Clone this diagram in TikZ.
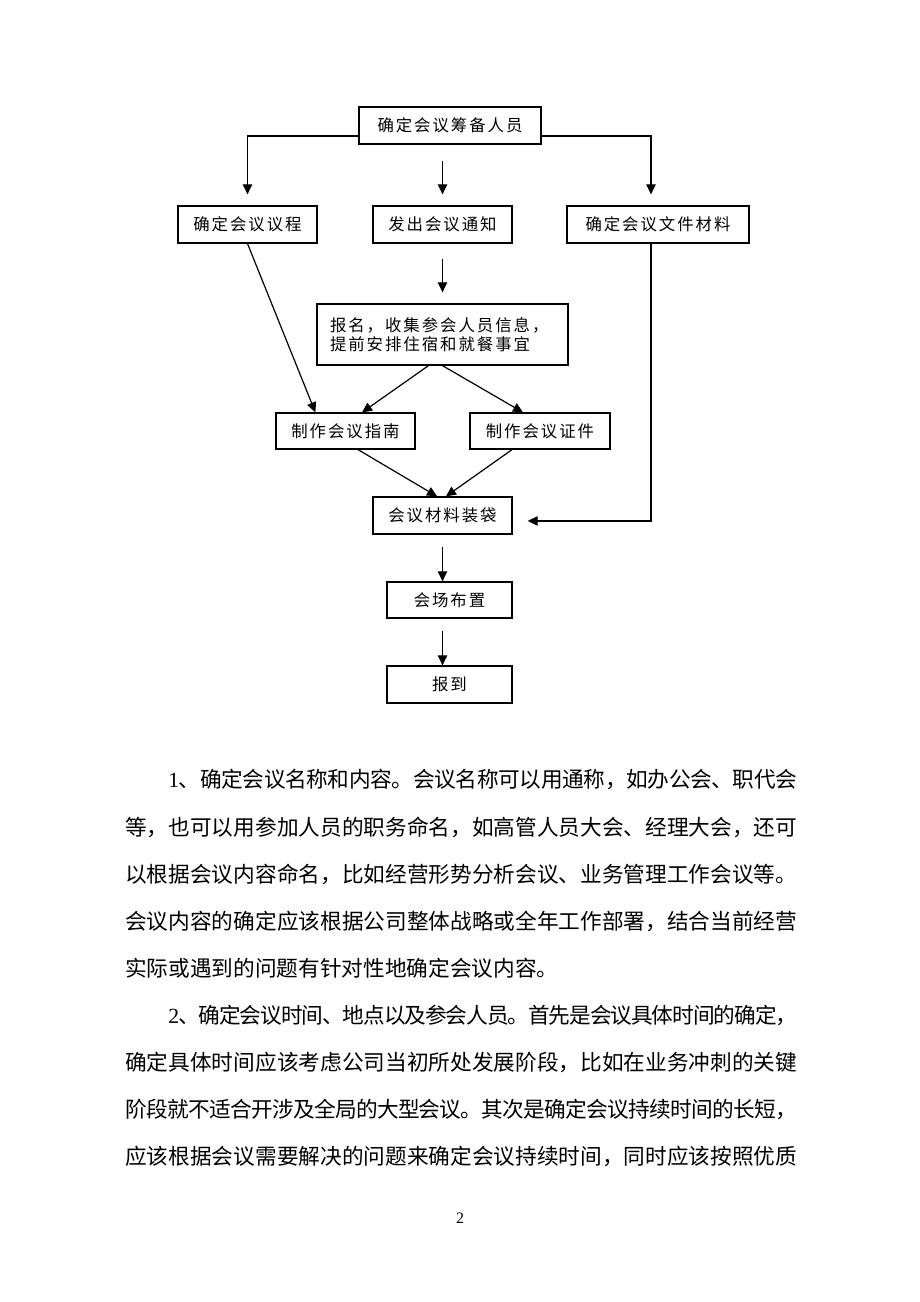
\documentclass[tikz,border=0pt]{standalone}
\usepackage{fontspec}
\newfontfamily\cjkbox[LetterSpace=12]{Noto Sans CJK SC}
\newfontfamily\cjkbody{Noto Sans CJK SC}
\newfontfamily\serifnum{Liberation Serif}
\usetikzlibrary{arrows.meta}
\newcommand\spendmark{SPENDMARK}
\def\spnext#1{\ifx\spendmark#1\else\hskip0pt plus 1fil minus 1.5pt\relax#1\expandafter\spnext\fi}
\def\spfirst#1{#1\spnext}
\newcommand\spreadline[2]{\hbox to #1{\spfirst#2\spendmark}}
\begin{document}
\begin{tikzpicture}[x=0.75pt,y=-0.75pt,
  box/.style={draw,line width=0.95pt,inner sep=0pt,minimum height=27.75pt,
    font=\cjkbox\fontsize{12.3pt}{14pt}\selectfont},
  arr/.style={line width=0.9pt,-{Triangle[length=7.5pt,width=7pt]}},
  bodyline/.style={inner sep=0pt,anchor=west,
    font=\cjkbody\fontsize{16.24pt}{20pt}\selectfont}]
\fill[white] (0,0) rectangle (920,1302);
\useasboundingbox (0,0) rectangle (920,1302);

% boxes
\node[box,minimum width=136.5pt] (top) at (450,125.5) {确定会议筹备人员};
\node[box,minimum width=104.25pt] (agenda) at (247.5,224.5) {确定会议议程};
\node[box,minimum width=104.25pt] (notice) at (442.5,224.5) {发出会议通知};
\node[box,minimum width=136.5pt] (docs) at (658,224.5) {确定会议文件材料};
\node[box,minimum width=188.25pt,minimum height=45.75pt,text width=168.75pt,
  inner xsep=9.75pt,align=left] (reg) at (442.5,334.5)
  {\baselineskip=20.25pt 报名，收集参会人员信息，\\提前安排住宿和就餐事宜};
\node[box,minimum width=104.25pt,minimum height=27pt] (guide) at (345.5,431) {制作会议指南};
\node[box,minimum width=105pt,minimum height=27pt] (cert) at (540,431) {制作会议证件};
\node[box,minimum width=104.25pt] (bag) at (442.5,515.5) {会议材料装袋};
\node[box,minimum width=93.75pt,minimum height=27pt] (venue) at (449.5,600) {会场布置};
\node[box,minimum width=93.75pt] (report) at (449.5,684.5) {报到};

% connectors
\draw[arr] ([yshift=-7.875pt]top.west) -| ([yshift=8.25pt]agenda.north);
\draw[arr,shorten <=12pt,shorten >=8.25pt] (top.south -| notice.north) -- (notice.north);
\draw[arr] ([yshift=-7.875pt]top.east) -| ([xshift=-5.25pt,yshift=8.25pt]docs.north);
\draw[arr,shorten <=11.25pt,shorten >=8.25pt] (notice.south) -- (notice.south |- reg.north);
\draw[arr] (agenda.south) -- ([xshift=30pt]guide.north west);
\draw[arr] ([xshift=-10.5pt]reg.south) -- ([xshift=12.4pt]guide.north);
\draw[arr] (reg.south) -- ([xshift=-12.75pt]cert.north);
\draw[arr] ([xshift=9.4pt]guide.south) -- ([xshift=-4.1pt]bag.north);
\draw[arr] ([xshift=-21pt]cert.south) -- ([xshift=2.6pt]bag.north);
\draw[arr] ([xshift=-5.25pt]docs.south) |- ([xshift=11.25pt,yshift=-4.1pt]bag.east);
\draw[arr,shorten <=9pt] (bag.south) -- (bag.south |- venue.north);
\draw[arr,shorten <=9pt] (venue.south -| bag.south) -- (report.north -| bag.south);

% body text
\node[bodyline] (p1a) at (168,779) {\spreadline{471.75pt}{{{\serifnum 1}}、确定会议名称和内容。会议名称可以用通称，如办公会、职代会}};
\node[bodyline] (p1b) at (125,827) {\spreadline{504pt}{等，也可以用参加人员的职务命名，如高管人员大会、经理大会，还可}};
\node[bodyline] (p1c) at (125,874) {\spreadline{504pt}{以根据会议内容命名，比如经营形势分析会议、业务管理工作会议等。}};
\node[bodyline] (p1d) at (125,921) {\spreadline{504pt}{会议内容的确定应该根据公司整体战略或全年工作部署，结合当前经营}};
\node[bodyline] (p1e) at (125,968) {实际或遇到的问题有针对性地确定会议内容。};
\node[bodyline] (p2a) at (168,1015) {\spreadline{471.75pt}{{{\serifnum 2}}、确定会议时间、地点以及参会人员。首先是会议具体时间的确定，}};
\node[bodyline] (p2b) at (125,1062) {\spreadline{504pt}{确定具体时间应该考虑公司当初所处发展阶段，比如在业务冲刺的关键}};
\node[bodyline] (p2c) at (125,1109) {\spreadline{504pt}{阶段就不适合开涉及全局的大型会议。其次是确定会议持续时间的长短，}};
\node[bodyline] (p2d) at (125,1156) {\spreadline{504pt}{应该根据会议需要解决的问题来确定会议持续时间，同时应该按照优质}};

% page number
\node[inner sep=0pt,font=\serifnum\fontsize{12pt}{14pt}\selectfont] (pg) at (460,1218) {2};
\end{tikzpicture}
\end{document}
